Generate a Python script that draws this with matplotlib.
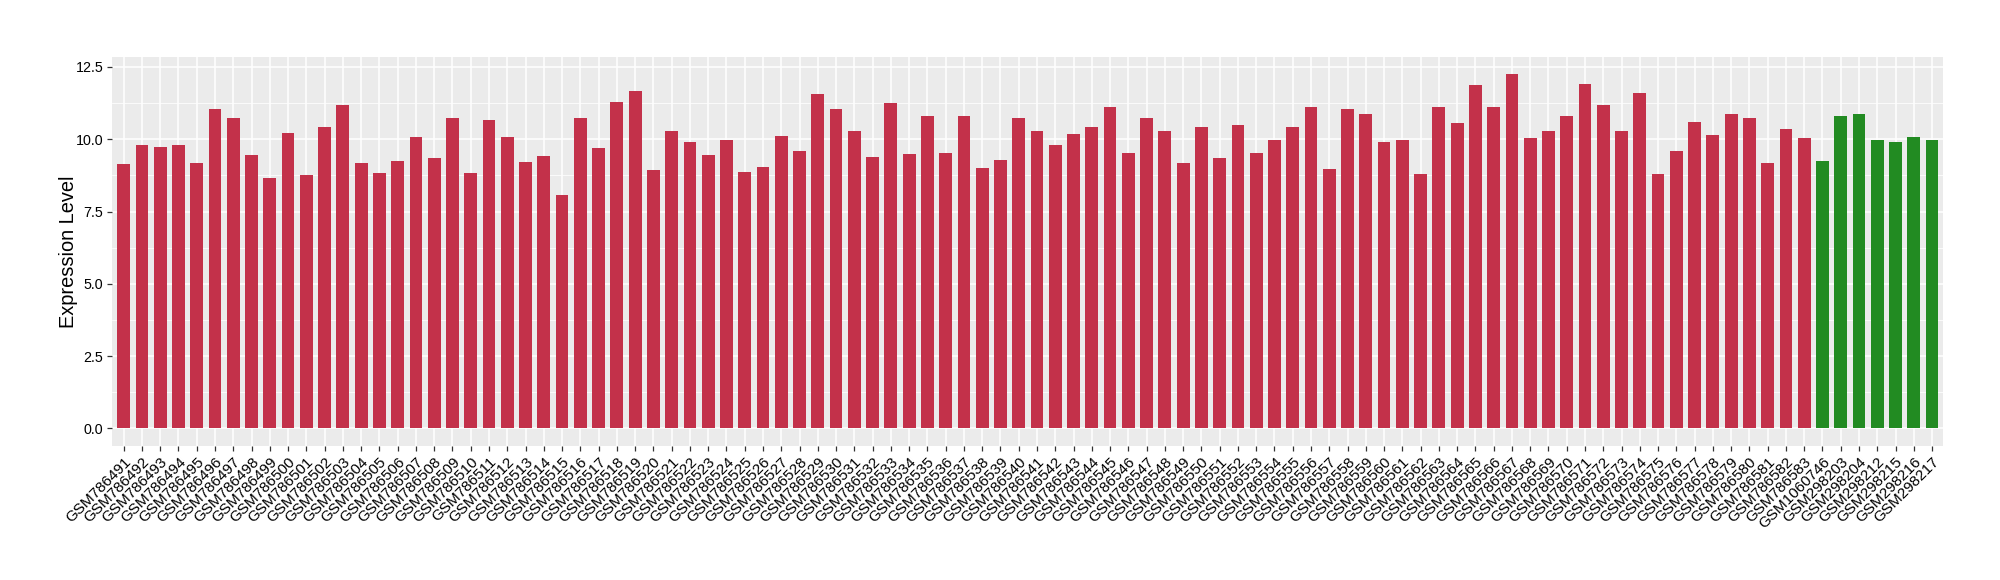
import numpy as np
import matplotlib
matplotlib.use('Agg')
import matplotlib.pyplot as plt
from matplotlib.ticker import MultipleLocator

plt.rcParams['font.family'] = ['Liberation Sans', 'DejaVu Sans']

RED = '#C3314A'
GREEN = '#228B22'

# sample names (tumour series 786491..786583, then normal samples)
tumor_samples = ['GSM%d' % n for n in range(786491, 786584)]
normal_samples = ['GSM1060746', 'GSM298203', 'GSM298204', 'GSM298212',
                  'GSM298215', 'GSM298216', 'GSM298217']

tumor_values = [
    9.13, 9.79, 9.72, 9.79, 9.17, 11.03, 10.75, 9.44, 8.65, 10.23,
    8.75, 10.41, 11.17, 9.17, 8.82, 9.23, 10.06, 9.34, 10.72, 8.82,
    10.68, 10.06, 9.20, 9.41, 8.06, 10.72, 9.68, 11.30, 11.68, 8.92,
    10.30, 9.89, 9.44, 9.99, 8.85, 9.03, 10.10, 9.58, 11.58, 11.03,
    10.30, 9.37, 11.24, 9.48, 10.82, 9.54, 10.82, 8.99, 9.27, 10.75,
    10.27, 9.79, 10.17, 10.44, 11.10, 9.54, 10.72, 10.30, 9.17, 10.44,
    9.34, 10.48, 9.51, 9.96, 10.41, 11.10, 8.96, 11.06, 10.89, 9.89,
    9.96, 8.79, 11.10, 10.55, 11.86, 11.13, 12.24, 10.03, 10.27, 10.82,
    11.92, 11.17, 10.27, 11.61, 8.79, 9.58, 10.58, 10.13, 10.86, 10.72,
    9.17, 10.34, 10.03,
]
normal_values = [9.23, 10.82, 10.89, 9.99, 9.89, 10.06, 9.96]

labels = tumor_samples + normal_samples
values = tumor_values + normal_values
colors = [RED] * len(tumor_values) + [GREEN] * len(normal_values)

fig = plt.figure(figsize=(20, 5.8), dpi=100)
ax = fig.add_axes([0.056, 0.231, 0.9155, 0.671])

x = np.arange(len(labels))
ax.bar(x, values, width=0.7, color=colors, zorder=3)

ax.set_facecolor('#EBEBEB')
ax.set_xlim(-0.64, len(labels) - 1 + 0.6)
ax.set_ylim(-0.612, 12.85)
ax.yaxis.set_minor_locator(MultipleLocator(1.25))
ax.set_yticks([0, 2.5, 5, 7.5, 10, 12.5])
ax.set_yticklabels(['0.0', '2.5', '5.0', '7.5', '10.0', '12.5'])
ax.set_xticks(x)
ax.set_xticklabels(labels, rotation=45, ha='right', rotation_mode='anchor')

ax.grid(which='major', color='white', linewidth=1.1, zorder=0)
ax.grid(which='minor', axis='y', color='white', linewidth=0.55, zorder=0)
ax.tick_params(axis='both', which='major', length=3.8, width=0.9,
               color='#333333', labelcolor='black', pad=2.5)
ax.tick_params(axis='x', labelsize=11)
ax.tick_params(axis='y', labelsize=10.3)
ax.tick_params(axis='y', which='minor', length=0)
for s in ax.spines.values():
    s.set_visible(False)

ax.set_ylabel('Expression Level', fontsize=14.4)
ax.yaxis.set_label_coords(-0.0186, 0.5)

fig.savefig('out.png', dpi=100)
